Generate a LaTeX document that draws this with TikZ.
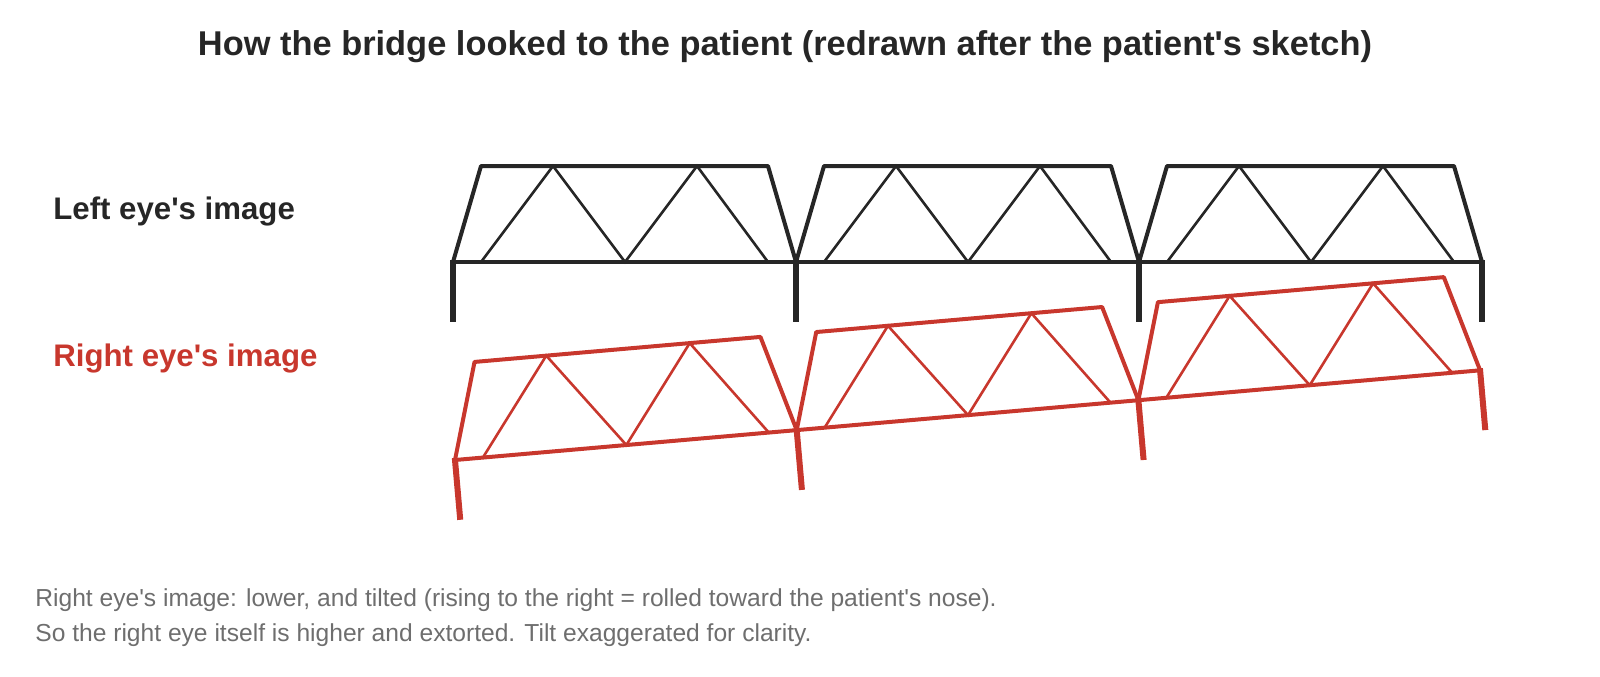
\documentclass[tikz,border=0pt]{standalone}
\usepackage{fontspec}
\setmainfont{Liberation Sans}
\definecolor{ink}{HTML}{262626}
\definecolor{redc}{HTML}{C8372D}
\definecolor{grayc}{HTML}{6E6E6E}
\newcommand{\aq}{\textquotesingle}
\newcommand{\mytruss}{%
  \foreach \s in {0,1,2}{%
    \begin{scope}[shift={(\s*343,0)}]%
      \draw[chord,line join=round] (0,0) -- (28,-96) -- (315,-96) -- (343,0);%
      \draw[diag] (28,0) -- (100,-96) -- (172,0) -- (244,-96) -- (315,0);%
    \end{scope}}%
  \draw[chord] (0,0) -- (1029,0);%
  \foreach \s in {0,1,2,3} \draw[leg] (\s*343,-2) -- (\s*343,60);%
}
\begin{document}
\begin{tikzpicture}[x=0.5pt,y=-0.5pt,
  chord/.style={line width=2pt},
  diag/.style={line width=1.3pt},
  leg/.style={line width=3pt},
  lab/.style={anchor=west,font=\fontsize{15.6}{18}\selectfont\bfseries,inner sep=0pt},
  captxt/.style={anchor=west,inner sep=0pt,text=grayc,font=\fontsize{12.3}{14}\selectfont}]
\begin{scope}[shift={(453,262)},color=ink]\mytruss\end{scope}
\begin{scope}[shift={(455,460)},rotate=5,color=redc]\mytruss\end{scope}
\node[font=\fontsize{17.2}{20}\selectfont\bfseries,text=ink] (title) at (785,47) {How the bridge looked to the patient (redrawn after the patient\aq s sketch)};
\node[lab,text=ink] (le) at (53,211) {Left eye\aq s image};
\node[lab,text=redc] (re) at (53,358) {Right eye\aq s image};
\node[captxt] (c1) at (35,600) {Right eye\aq s image: lower, and tilted (rising to the right = rolled toward the patient\aq s nose).};
\node[captxt] (c2) at (35,635) {So the right eye itself is higher and extorted. Tilt exaggerated for clarity.};
\pgfresetboundingbox
\useasboundingbox (0,0) rectangle (1600,676);
\end{tikzpicture}
\end{document}
